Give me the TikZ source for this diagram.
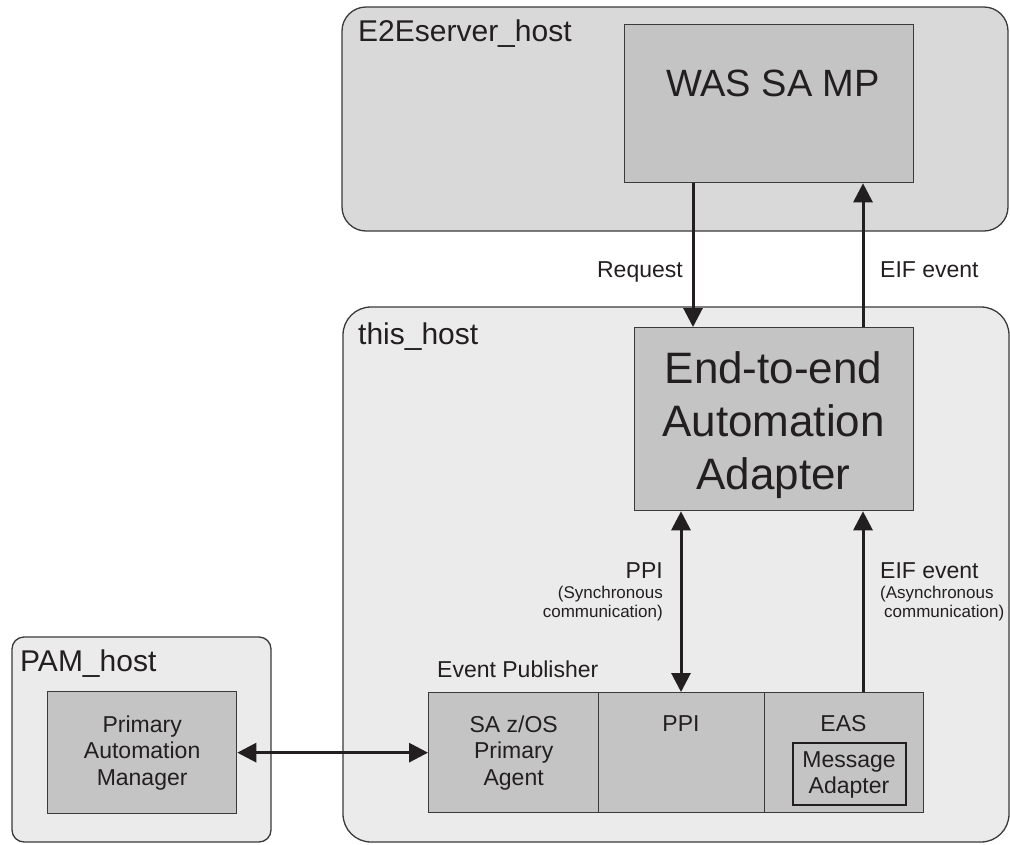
\documentclass[tikz,border=0pt]{standalone}
\usepackage{fontspec}
\setmainfont{Liberation Sans}
\usetikzlibrary{arrows.meta}
\definecolor{hostA}{HTML}{D9D9D9}
\definecolor{hostB}{HTML}{EBEBEB}
\definecolor{boxC}{HTML}{C4C4C4}
\definecolor{edgec}{HTML}{3A3A3A}
\definecolor{inkc}{HTML}{231F20}
\newcommand\fHost{\fontsize{30}{36}\selectfont}
\newcommand\fBig{\fontsize{44}{53}\selectfont}
\newcommand\fWas{\fontsize{38}{46}\selectfont}
\newcommand\fMid{\fontsize{23}{26.5}\selectfont}
\newcommand\fSmall{\fontsize{17}{19}\selectfont}
\tikzset{
  host/.style={draw=edgec, line width=1.3pt},
  inbox/.style={draw=edgec, line width=1.3pt, fill=boxC, rectangle, inner sep=0pt, anchor=north west, text=inkc, align=center},
  txt/.style={inner sep=0pt, text=inkc},
  arr/.style={line width=3pt, draw=inkc, -{Triangle[length=19pt,width=19pt]}},
  darr/.style={line width=3pt, draw=inkc, {Triangle[length=19pt,width=19pt]}-{Triangle[length=19pt,width=19pt]}},
}
\begin{document}
\begin{tikzpicture}[x=1pt,y=-1pt]
\useasboundingbox (0,0) rectangle (1010,844);
% host frames
\draw[host, fill=hostA, rounded corners=24pt] (342,7) rectangle (1008,231);
\draw[host, fill=hostB, rounded corners=28pt] (343,307) rectangle (1009,842);
\draw[host, fill=hostB, rounded corners=12pt] (12,637) rectangle (271,842);
\node[txt, anchor=base west, font=\fHost] (lE2E) at (358,41) {E2Eserver\_host};
\node[txt, anchor=base west, font=\fHost] (lthis) at (358,344) {this\_host};
\node[txt, anchor=base west, font=\fHost] (lpam) at (20,671) {PAM\_host};
% boxes
\node[inbox, minimum width=289pt, minimum height=158pt] (was) at (624,24) {};
\node[txt, anchor=base, font=\fWas] (wastxt) at (773,96) {WAS SA MP};
\node[inbox, minimum width=279pt, minimum height=183pt] (e2e) at (634,327) {};
\node[txt, align=center, font=\fBig] (e2etxt) at (773.5,425) {End-to-end\\Automation\\Adapter};
\node[inbox, minimum width=189pt, minimum height=122pt, font=\fMid] (pam) at (47,691) {Primary\\Automation\\Manager};
\node[inbox, minimum width=170pt, minimum height=120pt, font=\fMid] (sa) at (428,692) {SA z/OS\\Primary\\Agent};
\node[inbox, minimum width=166pt, minimum height=120pt] (ppi) at (598,692) {};
\node[inbox, minimum width=159pt, minimum height=120pt] (eas) at (764,692) {};
\node[txt, anchor=base, font=\fMid] (ppitxt) at (681,731) {PPI};
\node[txt, anchor=base, font=\fMid] (eastxt) at (843.5,731) {EAS};
\node[inbox, draw=inkc, line width=2pt, minimum width=113pt, minimum height=62pt] (msg) at (792,742) {};
\node[txt, align=center, font=\fMid] (msgtxt) at (849,775) {Message\\Adapter};
\node[txt, anchor=base west, font=\fMid] (evp) at (437,677) {Event Publisher};
% connector x positions
\coordinate (xreq) at (693,0);
\coordinate (xeif) at (863,0);
\coordinate (xppi) at (681,0);
% connectors
\draw[arr] (was.south -| xreq) -- (e2e.north -| xreq);
\draw[arr] (e2e.north -| xeif) -- (was.south -| xeif);
\draw[darr] (e2e.south -| xppi) -- (ppi.north -| xppi);
\draw[arr] (eas.north -| xeif) -- (e2e.south -| xeif);
\draw[darr] (pam.east) -- (sa.west);
% connector labels
\node[txt, anchor=base east, font=\fMid] (lreq) at (683,277) {Request};
\node[txt, anchor=base west, font=\fMid] (leif1) at (880,277) {EIF event};
\node[txt, anchor=base east, font=\fMid] (lppi) at (663,578) {PPI};
\node[txt, anchor=base east, font=\fSmall] (lppi2) at (663,598) {(Synchronous};
\node[txt, anchor=base east, font=\fSmall] (lppi3) at (663,617) {communication)};
\node[txt, anchor=base west, font=\fMid] (leif2) at (880,578) {EIF event};
\node[txt, anchor=base west, font=\fSmall] (leif3) at (880,598) {(Asynchronous};
\node[txt, anchor=base west, font=\fSmall] (leif4) at (884,617) {communication)};
\end{tikzpicture}
\end{document}
